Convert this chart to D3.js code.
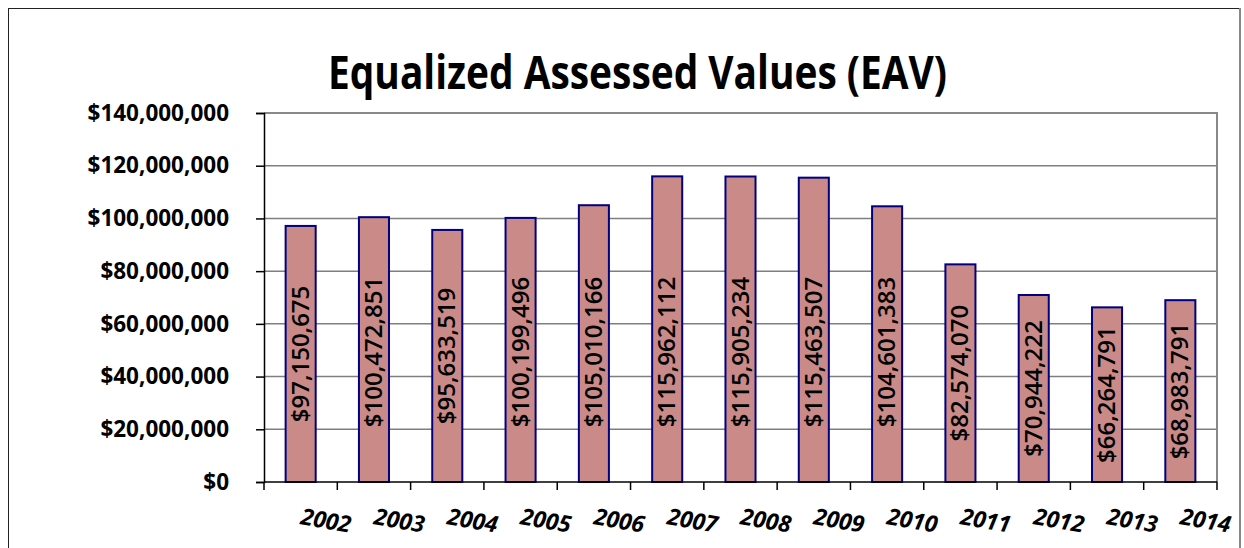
<!DOCTYPE html>
<html>
<head>
<meta charset="utf-8">
<script src="https://cdn.jsdelivr.net/npm/d3@7"></script>
<style>
  body { margin: 0; background: #fff; }
  svg { display: block; }
</style>
</head>
<body>
<svg id="chart" width="1244" height="548"></svg>
<script>
const years = ['2002', '2003', '2004', '2005', '2006', '2007', '2008',
  '2009', '2010', '2011', '2012', '2013', '2014']
const eav = [97150675, 100472851, 95633519, 100199496, 105010166, 115962112,
  115905234, 115463507, 104601383, 82574070, 70944222, 66264791, 68983791]
const yTicks = [0, 20000000, 40000000, 60000000, 80000000, 100000000,
  120000000, 140000000]
const title = 'Equalized Assessed Values (EAV)'

const data = years.map((yr, i) => ({ year: yr, value: eav[i] }))

const svg = d3.select('#chart')
const font = '"Open Sans", "Noto Sans", sans-serif'

// plot area, in page pixels
const plotLeft = 264, plotRight = 1217, plotTop = 113, plotBottom = 482

const x = d3.scaleBand().domain(years).range([plotLeft, plotRight])
const y = d3.scaleLinear().domain([0, 140000000]).range([plotBottom, plotTop])
const money = d3.format('$,')

// outer chart border
svg.append('rect')
  .attr('x', 8.5).attr('y', 8.5)
  .attr('width', 1231).attr('height', 560)
  .attr('fill', 'none')
  .attr('stroke', '#222')
  .attr('stroke-width', 1)
svg.append('line')
  .attr('x1', 1240).attr('x2', 1240).attr('y1', 8).attr('y2', 548)
  .attr('stroke', '#888').attr('stroke-width', 2)

// title
svg.append('text')
  .attr('x', 328).attr('y', 89)
  .attr('textLength', 619)
  .attr('lengthAdjust', 'spacingAndGlyphs')
  .style('font-family', font)
  .style('font-weight', 700)
  .style('font-size', '47px')
  .text(title)

// grid lines
svg.append('g')
  .selectAll('line')
  .data(yTicks.slice(1))
  .join('line')
  .attr('x1', plotLeft).attr('x2', plotRight)
  .attr('y1', d => y(d)).attr('y2', d => y(d))
  .attr('stroke', '#7f7f7f')
  .attr('stroke-width', 1.5)

// plot frame (top and right)
svg.append('path')
  .attr('d', `M${plotLeft},${plotTop}H${plotRight}V${plotBottom}`)
  .attr('fill', 'none')
  .attr('stroke', '#888')
  .attr('stroke-width', 2)

// bars
svg.append('g')
  .selectAll('rect')
  .data(data)
  .join('rect')
  .attr('x', d => x(d.year) + x.bandwidth() * 0.295)
  .attr('width', x.bandwidth() * 0.41)
  .attr('y', d => y(d.value))
  .attr('height', d => y(0) - y(d.value))
  .attr('fill', '#c98a88')
  .attr('stroke', '#000080')
  .attr('stroke-width', 2)

// y axis
const yAxis = svg.append('g')
  .attr('transform', `translate(${plotLeft},0)`)
  .call(d3.axisLeft(y).tickValues(yTicks).tickFormat(money).tickSize(8).tickPadding(27))
yAxis.select('.domain').attr('stroke', '#000').attr('stroke-width', 1.5)
yAxis.selectAll('.tick line').attr('stroke', '#000').attr('stroke-width', 1.5)
yAxis.selectAll('.tick text')
  .style('font-family', font)
  .style('font-weight', 700)
  .style('font-size', '22.5px')
  .attr('fill', '#000')

// x axis: ticks sit on the category boundaries
const xAxis = svg.append('g')
  .attr('transform', `translate(0,${plotBottom})`)
xAxis.append('line')
  .attr('x1', plotLeft).attr('x2', plotRight)
  .attr('stroke', '#000').attr('stroke-width', 1.5)
xAxis.selectAll('.bound')
  .data(years.concat(['end']))
  .join('line')
  .attr('class', 'bound')
  .attr('x1', (d, i) => i < years.length ? x(d) : plotRight)
  .attr('x2', (d, i) => i < years.length ? x(d) : plotRight)
  .attr('y1', 0).attr('y2', 8)
  .attr('stroke', '#000').attr('stroke-width', 1.5)
xAxis.selectAll('.yr')
  .data(years)
  .join('text')
  .attr('class', 'yr')
  .attr('transform', d => `translate(${x(d) + x.bandwidth() / 2 - 1},${42}) rotate(10)`)
  .style('font-family', font)
  .style('font-weight', 700)
  .style('font-style', 'italic')
  .style('font-size', '23px')
  .text(d => d)

// value labels, vertical inside each bar
svg.append('g')
  .selectAll('text')
  .data(data)
  .join('text')
  .attr('transform', d => {
    const cx = x(d.year) + x.bandwidth() / 2
    const cy = Math.max((y(d.value) + y(0)) / 2, 352)
    return `translate(${cx + 8},${cy}) rotate(-90)`
  })
  .attr('text-anchor', 'middle')
  .style('font-family', font)
  .style('font-weight', 600)
  .style('font-size', '24px')
  .text(d => money(d.value))
</script>
</body>
</html>
